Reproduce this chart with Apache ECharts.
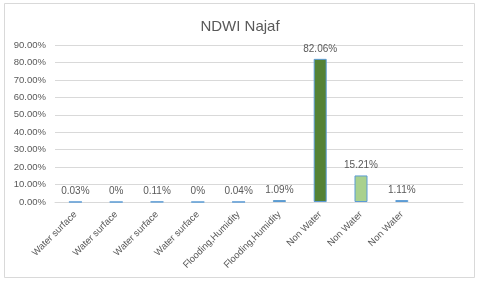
<!DOCTYPE html>
<html><head><meta charset="utf-8">
<script src="https://cdn.jsdelivr.net/npm/echarts@6/dist/echarts.min.js"></script>
<style>html,body{margin:0;padding:0;background:#fff}#c{width:480px;height:282px}</style>
</head><body><div id="c"></div>
<script>
const categories = ['Water surface','Water surface','Water surface','Water surface','Flooding,Humidity','Flooding,Humidity','Non Water','Non Water','Non Water',''];
const values = [0.03, 0, 0.11, 0, 0.04, 1.09, 82.06, 15.21, 1.11, null];
const barFills = ['#DEEBF7','#DEEBF7','#DEEBF7','#DEEBF7','#DEEBF7','#548235','#548235','#A9D18E','#DEEBF7','#DEEBF7'];
const yTicks = {min: 0, max: 90, interval: 10};
const titleText = 'NDWI Najaf';

const FONT = '"Liberation Sans",sans-serif';
const chart = echarts.init(document.getElementById('c'), null, {renderer: 'canvas'});
chart.setOption({
  animation: false,
  backgroundColor: '#fff',
  graphic: [{type: 'rect', shape: {x: 4.5, y: 3.5, width: 470, height: 274}, style: {fill: 'none', stroke: '#D9D9D9', lineWidth: 1}, silent: true, z: -1}],
  title: {text: titleText, left: 'center', top: 14, textStyle: {fontFamily: FONT, fontSize: 15, fontWeight: 'normal', color: '#595959'}},
  grid: {left: 55, right: 17, top: 45, bottom: 80, containLabel: false},
  xAxis: {
    type: 'category', data: categories,
    axisLine: {lineStyle: {color: '#D9D9D9'}}, axisTick: {show: false},
    axisLabel: {rotate: 45, interval: 0, margin: 11, color: '#595959', fontFamily: FONT, fontSize: 9.5}
  },
  yAxis: {
    type: 'value', min: yTicks.min, max: yTicks.max, interval: yTicks.interval,
    axisLine: {show: false}, axisTick: {show: false},
    splitLine: {lineStyle: {color: '#D9D9D9'}},
    axisLabel: {margin: 9, color: '#595959', fontFamily: FONT, fontSize: 9.5, formatter: v => v.toFixed(2) + '%'}
  },
  series: [{
    type: 'bar', barWidth: 13,
    data: values.map((v, i) => ({value: v, itemStyle: {color: barFills[i]}})),
    itemStyle: {borderColor: '#5B9BD5', borderWidth: 1},
    label: {show: true, position: 'top', distance: 5, color: '#595959', fontFamily: FONT, fontSize: 10,
      formatter: p => p.value == null ? '' : (p.value === 0 ? '0%' : p.value.toFixed(2) + '%')}
  }]
});
</script></body></html>
